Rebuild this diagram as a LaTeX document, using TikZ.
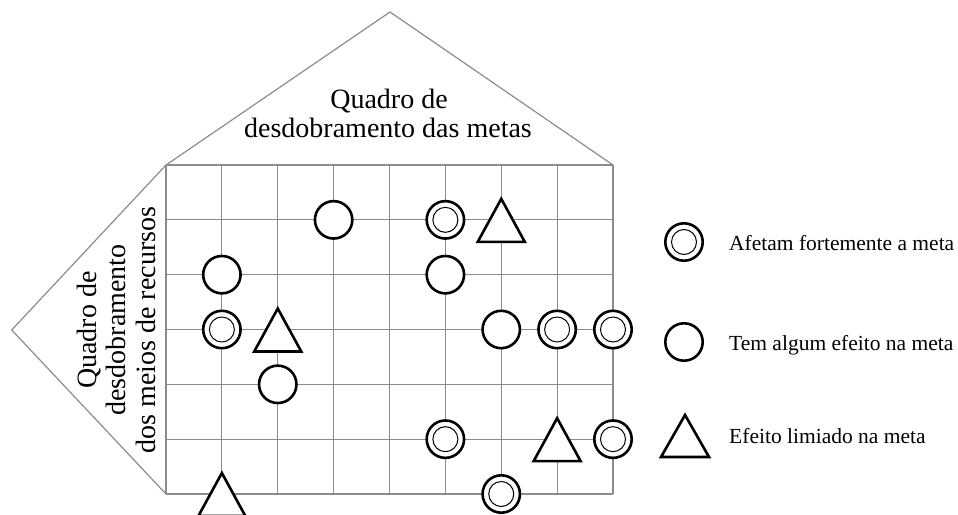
\documentclass[tikz,border=0pt]{standalone}
\usepackage{fontspec}
\setmainfont{Liberation Serif}
\definecolor{linegray}{RGB}{140,140,140}
\begin{document}
\begin{tikzpicture}[x=1pt,y=-1pt,
  gridline/.style={draw=linegray, line width=1.2pt},
  symline/.style={draw=black, line width=2.6pt, fill=white},
  some/.style={symline, circle, minimum size=37.4pt, inner sep=0pt},
  strong/.style={some, path picture={\draw[black, line width=1pt] (path picture bounding box.center) circle[radius=12.5pt];}},
  tri/.style={symline, line join=miter},
  bigtext/.style={font=\fontsize{28}{29.5}\selectfont, inner sep=0pt},
  legtext/.style={font=\fontsize{21.5}{24}\selectfont, anchor=base west, inner sep=0pt}]

\useasboundingbox (0,0) rectangle (958,514);
\clip (0,0) rectangle (958,514);

% grid intersections
\foreach \i in {0,...,8}
  \foreach \j in {0,...,6}
    \coordinate (g\i-\j) at ({166+55.875*\i},{165+54.833*\j});
\coordinate (peak) at (390,12);
\coordinate (tip) at (11.7,330);

% outline
\draw[gridline, line join=miter] (g0-0) -- (peak) -- (g8-0);
\draw[gridline, line join=miter] (g0-0) -- (tip) -- (g0-6);

% grid
\foreach \i in {0,...,8} \draw[gridline] (g\i-0) -- (g\i-6);
\foreach \j in {0,...,6} \draw[gridline] (g0-\j) -- (g8-\j);

% titles
\node[bigtext, anchor=base] (title1) at (389,108) {Quadro de};
\node[bigtext, anchor=base] (title2) at (388,137) {desdobramento das metas};
\node[bigtext, rotate=90, anchor=base] (side1) at (96,330) {Quadro de};
\node[bigtext, rotate=90, anchor=base] (side2) at (125,330) {desdobramento};
\node[bigtext, rotate=90, anchor=base] (side3) at (155,330) {dos meios de recursos};

% some effect
\node[some] (s31) at (g3-1) {};
\node[some] (s12) at (g1-2) {};
\node[some] (s52) at (g5-2) {};
\node[some] (s63) at (g6-3) {};
\node[some] (s24) at (g2-4) {};

% strong effect
\node[strong] (f51) at (g5-1) {};
\node[strong] (f13) at (g1-3) {};
\node[strong] (f73) at (g7-3) {};
\node[strong] (f83) at (g8-3) {};
\node[strong] (f55) at (g5-5) {};
\node[strong] (f85) at (g8-5) {};
\node[strong] (f66) at (g6-6) {};

% limited effect
\foreach \i/\j in {6/1, 2/3, 7/5, 1/6}{
  \coordinate (t\i\j) at (g\i-\j);
  \draw[tri] (t\i\j) ++(0,-21) -- ++(-23.5,43) -- ++(47,0) -- cycle;
}

% legend
\node[strong] (lg1) at (684,242) {};
\node[some] (lg2) at (684,342) {};
\coordinate (lg3) at (685,436);
\draw[tri] (lg3) ++(0,-21) -- ++(-24,42) -- ++(48,0) -- cycle;
\node[legtext] (lt1) at (729,250) {Afetam fortemente a meta};
\node[legtext] (lt2) at (729,350) {Tem algum efeito na meta};
\node[legtext] (lt3) at (729,443) {Efeito limiado na meta};
\end{tikzpicture}
\end{document}
